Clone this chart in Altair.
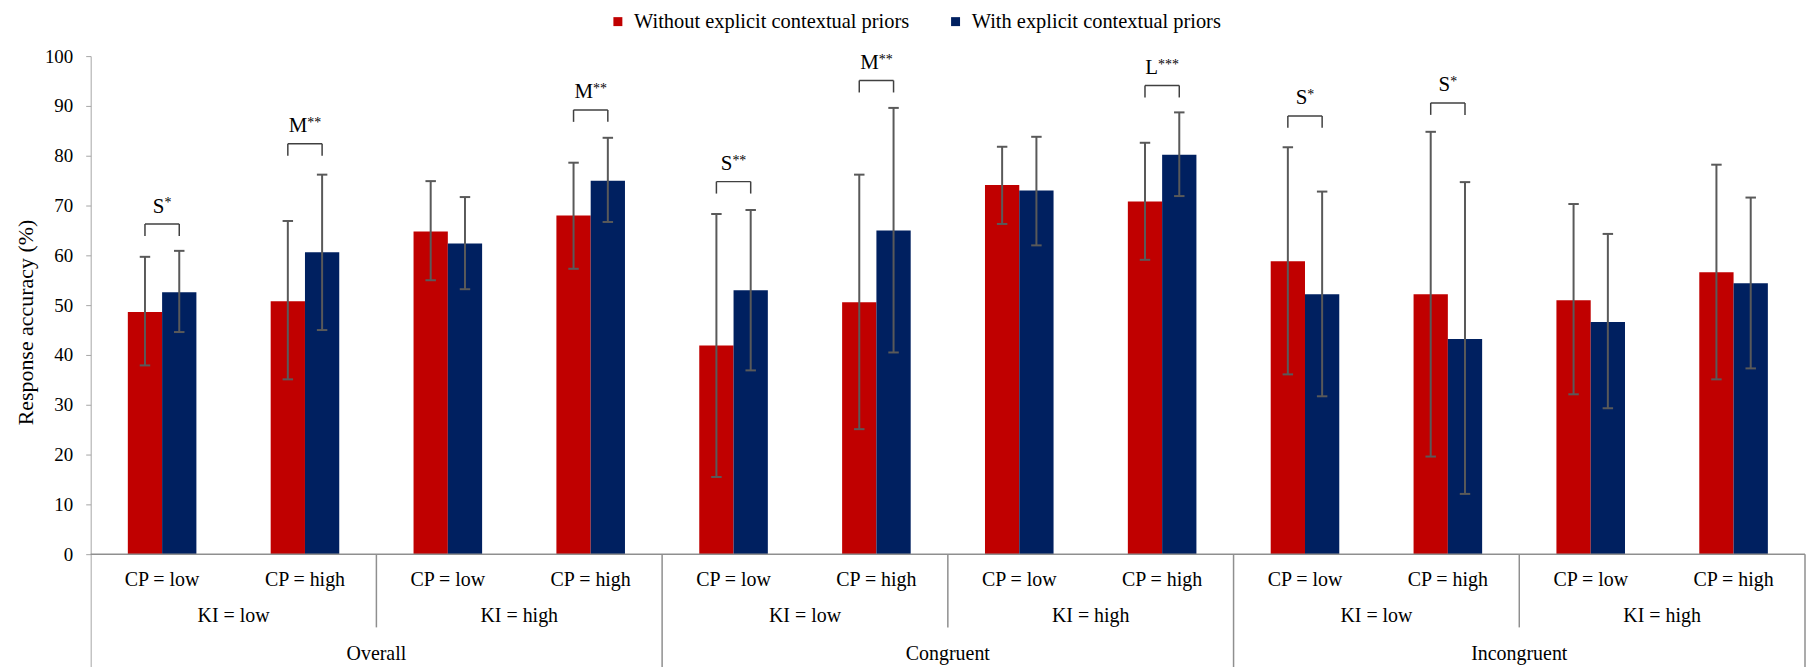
import altair as alt
import pandas as pd

# ---------------- data ----------------
groups = ["Overall", "Congruent", "Incongruent"]
ki_levels = ["KI = low", "KI = high"]
cp_levels = ["CP = low", "CP = high"]
series = ["Without explicit contextual priors", "With explicit contextual priors"]

# order: Overall(KI low: CP low, CP high; KI high: CP low, CP high), Congruent(...), Incongruent(...)
without_mean = [48.6, 50.8, 64.8, 68.0, 41.9, 50.6, 74.1, 70.8, 58.8, 52.2, 51.0, 56.6]
without_lo = [37.9, 35.1, 55.0, 57.3, 15.5, 25.1, 66.3, 59.1, 36.1, 19.6, 32.1, 35.1]
without_hi = [59.7, 66.9, 74.9, 78.6, 68.3, 76.2, 81.8, 82.6, 81.7, 84.8, 70.3, 78.2]
with_mean = [52.6, 60.6, 62.4, 75.0, 53.0, 65.0, 73.0, 80.2, 52.2, 43.2, 46.6, 54.4]
with_lo = [44.6, 45.0, 53.2, 66.7, 36.9, 40.5, 62.0, 71.9, 31.7, 12.1, 29.3, 37.3]
with_hi = [60.9, 76.2, 71.7, 83.6, 69.1, 89.6, 83.8, 88.7, 72.8, 74.7, 64.3, 71.6]

# significance brackets: category index, effect-size letter, stars, bracket height (%)
sig_band = [0, 1, 3, 4, 5, 7, 8, 9]
sig_letter = ["S", "M", "M", "S", "M", "L", "S", "S"]
sig_stars = ["*", "**", "**", "**", "**", "***", "*", "*"]
sig_top = [66.3, 82.4, 89.2, 74.8, 95.1, 94.1, 88.0, 90.6]

# ---------------- layout / style ----------------
FONT = "Liberation Serif"
RED, BLUE = "#C00000", "#002060"
N = len(groups) * len(ki_levels) * len(cp_levels)
W, H = 1721, 620
PX_PER_UNIT = 5.0
YMIN = 100 - H / PX_PER_UNIT
BAND_PX = W / N
HALF = 0.24            # bar width in band units
LINE = "#8f8f8f"

# ---------------- tables built from the arrays ----------------
rows = []
for i in range(N):
    c = i + 0.5
    rows.append(dict(series=series[0], x0=c - HALF, x1=c, xc=c - HALF / 2,
                     mean=without_mean[i], lo=without_lo[i], hi=without_hi[i]))
    rows.append(dict(series=series[1], x0=c, x1=c + HALF, xc=c + HALF / 2,
                     mean=with_mean[i], lo=with_lo[i], hi=with_hi[i]))
bars_df = pd.DataFrame(rows)

letter_w = {"S": 0.556, "M": 0.889, "L": 0.611}
sig_rows, leg_rows = [], []
for b, l, s, t in zip(sig_band, sig_letter, sig_stars, sig_top):
    c = b + 0.5
    off_px = (letter_w[l] * 21 - len(s) * 7) / 2
    sig_rows.append(dict(rc=c - HALF / 2, bc=c + HALF / 2, top=t, letter=l, stars=s,
                         xt=c + off_px / BAND_PX))
    leg_rows.append(dict(xl=c - HALF / 2, top=t))
    leg_rows.append(dict(xl=c + HALF / 2, top=t))
sig_df = pd.DataFrame(sig_rows)
leg_df = pd.DataFrame(leg_rows)

cp_df = pd.DataFrame([dict(x=i + 0.5, y=-6.4, t=cp_levels[i % 2]) for i in range(N)])
ki_df = pd.DataFrame([dict(x=2 * k + 1, y=-13.7, t=ki_levels[k % 2]) for k in range(N // 2)])
gr_df = pd.DataFrame([dict(x=4 * g + 2, y=-21.2, t=groups[g]) for g in range(len(groups))])

sep_df = pd.DataFrame(
    [dict(x=2 + 4 * g, ytop=0, ybot=-14.7) for g in range(len(groups))]
    + [dict(x=4 * (g + 1), ytop=0, ybot=YMIN) for g in range(len(groups))]
)
base_df = pd.DataFrame([dict(x0=0, x1=N, y=0)])

# ---------------- encodings ----------------
x_scale = alt.Scale(domain=[0, N], nice=False, zero=False)
y_scale = alt.Scale(domain=[YMIN, 100], nice=False, zero=False)
y_axis = alt.Axis(
    values=list(range(0, 101, 10)), grid=False,
    domainColor="#a6a6a6", domainWidth=1, tickColor="#a6a6a6", tickSize=5,
    labelFont=FONT, labelFontSize=19, labelColor="black", labelPadding=13,
    titleFont=FONT, titleFontSize=22, titleFontWeight="normal", titleColor="black",
    titleAngle=270, titleAlign="center", titleBaseline="middle", titleX=-65, titleY=267,
)


def X(f):
    return alt.X(f, type="quantitative", scale=x_scale, axis=None)


def Y(f):
    return alt.Y(f, type="quantitative", scale=y_scale, axis=y_axis, title="Response accuracy (%)")


legend = alt.Legend(
    title=None, orient="none", legendX=519, legendY=-45, direction="horizontal",
    symbolType="square", symbolSize=81, symbolStrokeWidth=0,
    labelFont=FONT, labelFontSize=20.5, labelColor="black", labelLimit=600,
    columnPadding=36, labelOffset=6, padding=0,
)

bars = alt.Chart(bars_df).mark_bar().encode(
    x=X("x0"), x2="x1", y=Y("mean"), y2=alt.datum(0),
    color=alt.Color("series:N", scale=alt.Scale(domain=series, range=[RED, BLUE]), legend=legend),
)

base = alt.Chart(base_df).mark_rule(color=LINE, strokeWidth=1.5).encode(
    x=X("x0"), x2="x1", y=Y("y"))

err = alt.Chart(bars_df).mark_rule(color="#595959", strokeWidth=2).encode(
    x=X("xc"), y=Y("lo"), y2="hi")
cap_hi = alt.Chart(bars_df).mark_rule(color="#595959", strokeWidth=2, xOffset=-5.25, x2Offset=5.25).encode(
    x=X("xc"), x2="xc", y=Y("hi"))
cap_lo = alt.Chart(bars_df).mark_rule(color="#595959", strokeWidth=2, xOffset=-5.25, x2Offset=5.25).encode(
    x=X("xc"), x2="xc", y=Y("lo"))

br_top = alt.Chart(sig_df).mark_rule(color="#404040", strokeWidth=1.5).encode(
    x=X("rc"), x2="bc", y=Y("top"))
br_leg = alt.Chart(leg_df).mark_rule(color="#404040", strokeWidth=1.5, y2Offset=12).encode(
    x=X("xl"), y=Y("top"), y2="top")

sig_letter_txt = alt.Chart(sig_df).mark_text(
    align="right", baseline="alphabetic", dy=-11.5, font=FONT, fontSize=21, color="black"
).encode(x=X("xt"), y=Y("top"), text="letter:N")
sig_star_txt = alt.Chart(sig_df).mark_text(
    align="left", baseline="alphabetic", dy=-17, font=FONT, fontSize=14, color="black"
).encode(x=X("xt"), y=Y("top"), text="stars:N")

seps = alt.Chart(sep_df).mark_rule(color=LINE, strokeWidth=1.5).encode(
    x=X("x"), y=Y("ytop"), y2="ybot")


def labels(df):
    return alt.Chart(df).mark_text(
        align="center", baseline="alphabetic", font=FONT, fontSize=20, color="black"
    ).encode(x=X("x"), y=Y("y"), text="t:N")


chart = alt.layer(
    bars, base, err, cap_hi, cap_lo, br_top, br_leg, sig_letter_txt, sig_star_txt,
    seps, labels(cp_df), labels(ki_df), labels(gr_df),
).properties(
    width=W, height=H,
    padding={"left": 83, "top": 47, "right": 1, "bottom": 0},
    autosize=alt.AutoSizeParams(type="none"),
    background="white",
).configure_view(stroke=None)

chart.save("out.html", embed_options={"renderer": "svg", "actions": False})
